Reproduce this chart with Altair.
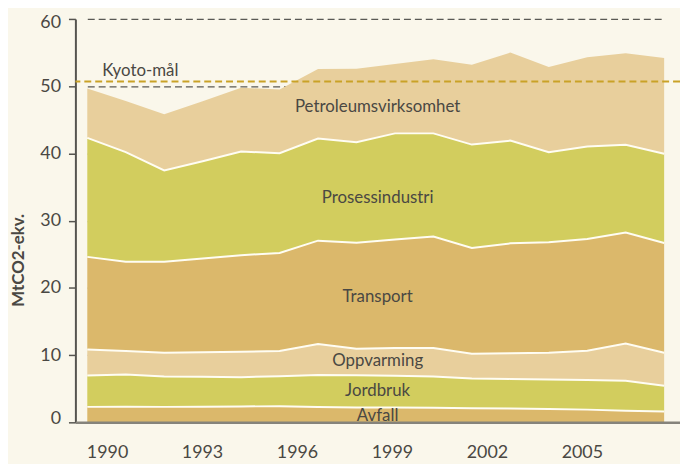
import altair as alt
import pandas as pd

# --- data (MtCO2-ekv.), bottom to top ---
years = list(range(1990, 2006))
series = ["Avfall", "Jordbruk", "Oppvarming", "Transport", "Prosessindustri", "Petroleumsvirksomhet"]
avfall = [2.30, 2.33, 2.30, 2.33, 2.36, 2.40, 2.28, 2.21, 2.21, 2.17, 2.11, 2.06, 2.00, 1.89, 1.71, 1.62]
jordbruk = [4.67, 4.79, 4.52, 4.45, 4.36, 4.47, 4.76, 4.79, 4.72, 4.65, 4.42, 4.40, 4.38, 4.42, 4.48, 3.83]
oppvarming = [3.88, 3.48, 3.54, 3.65, 3.79, 3.74, 4.60, 3.95, 4.12, 4.23, 3.68, 3.83, 3.98, 4.35, 5.54, 4.91]
transport = [13.76, 13.28, 13.52, 13.93, 14.34, 14.59, 15.38, 15.77, 16.14, 16.60, 15.73, 16.33, 16.41, 16.61, 16.51, 16.32]
prosess = [17.69, 16.30, 13.60, 14.48, 15.43, 14.83, 15.18, 14.93, 15.79, 15.33, 15.37, 15.28, 13.41, 13.75, 13.03, 13.26]
petroleum = [7.37, 7.62, 8.36, 8.91, 9.48, 9.49, 10.36, 10.95, 10.32, 11.02, 11.89, 13.10, 12.67, 13.27, 13.61, 14.24]
kyoto_value = 50.7
kyoto_label = "Kyoto-mål"
tick_years = [1990, 1993, 1996, 1999, 2002, 2005]
y_ticks = [0, 10, 20, 30, 40, 50, 60]

# annotation labels (data units)
label_text = ["Petroleumsvirksomhet", "Prosessindustri", "Transport", "Oppvarming", "Jordbruk", "Avfall"]
label_y = [46.9, 33.3, 18.6, 9.1, 4.6, 0.95]
label_x = 1997.55
kyoto_label_x = 1990.39
kyoto_label_y = 52.2

colors = ["#DBB86B", "#D2CD5E", "#E8CF9C", "#DBB86B", "#D2CD5E", "#E8CF9C"]
values = [avfall, jordbruk, oppvarming, transport, prosess, petroleum]

rows = []
for i, yr in enumerate(years):
    low = 0.0
    for s, vals in zip(series, values):
        rows.append({"year": yr, "series": s, "lower": low, "upper": low + vals[i]})
        low += vals[i]
df = pd.DataFrame(rows)
df_lines = df[df["series"] != "Petroleumsvirksomhet"]

FONT = "Lato"
TXT = "#4A4843"

yscale = alt.Scale(domain=[0, 60], nice=False, zero=True)
xA = dict(scale=alt.Scale(domain=[1990, 2005], range=[12, 594], nice=False, zero=False), axis=None)

areas = alt.Chart(df).mark_area(interpolate="linear").encode(
    x=alt.X("year:Q", **xA),
    y=alt.Y("upper:Q", scale=yscale, axis=alt.Axis(
        values=y_ticks, grid=True, gridDash=[7, 4], gridColor="#5A5954", gridWidth=1.3,
        domainColor="#55544F", domainWidth=2, tickSize=7, tickColor="#55544F", tickWidth=1.5,
        labelFont=FONT, labelFontSize=18, labelColor=TXT, labelPadding=8,
        labelFlush=True, labelFlushOffset=5,
        title="MtCO2-ekv.", titleFont=FONT, titleFontSize=17, titleFontWeight="bold",
        titleColor=TXT, titleX=-57, titleY=243, titleAngle=270, titleAlign="center",
        titleBaseline="middle", zindex=0)),
    y2="lower:Q",
    color=alt.Color("series:N", scale=alt.Scale(domain=series, range=colors), legend=None),
    detail="series:N",
)

lines = alt.Chart(df_lines).mark_line(color="#FFFDF3", strokeWidth=2).encode(
    x=alt.X("year:Q", **xA),
    y=alt.Y("upper:Q", scale=yscale),
    detail="series:N",
)

kyoto = alt.Chart(pd.DataFrame({"k": [kyoto_value]})).mark_rule(
    color="#C9A227", strokeDash=[7, 4], strokeWidth=2
).encode(y=alt.Y("k:Q", scale=yscale))

labels = alt.Chart(pd.DataFrame({"t": label_text, "ly": label_y, "lx": [label_x] * len(label_text)})).mark_text(
    font=FONT, fontSize=17, color=TXT, align="center", baseline="middle"
).encode(x=alt.X("lx:Q", **xA), y=alt.Y("ly:Q", scale=yscale), text="t:N")

kyoto_text = alt.Chart(pd.DataFrame({"t": [kyoto_label], "ly": [kyoto_label_y], "lx": [kyoto_label_x]})).mark_text(
    font=FONT, fontSize=17, color=TXT, align="left", baseline="middle"
).encode(x=alt.X("lx:Q", **xA), y=alt.Y("ly:Q", scale=yscale), text="t:N")

axis_layer = alt.Chart(pd.DataFrame({"tick": tick_years})).mark_point(opacity=0).encode(
    x=alt.X("tick:Q", scale=alt.Scale(domain=[1989, 2008.1], nice=False, zero=False),
            axis=alt.Axis(values=tick_years, format="d", ticks=False, grid=False,
                          domainColor="#85837B", domainWidth=2.5, labelFont=FONT,
                          labelFontSize=18, labelColor=TXT, labelPadding=21, title=None, zindex=1)),
    y=alt.value(0),
)

chart = alt.layer(areas, lines, kyoto, labels, kyoto_text, axis_layer).resolve_scale(
    x="independent"
).properties(
    width=610, height=407,
    autosize=alt.AutoSizeParams(type="none"),
    padding={"left": 68, "top": 9, "right": 0, "bottom": 40},
    background="#FAF7EB",
).configure_view(stroke=None)

chart.save("out.html", embed_options={"renderer": "svg", "actions": False})
